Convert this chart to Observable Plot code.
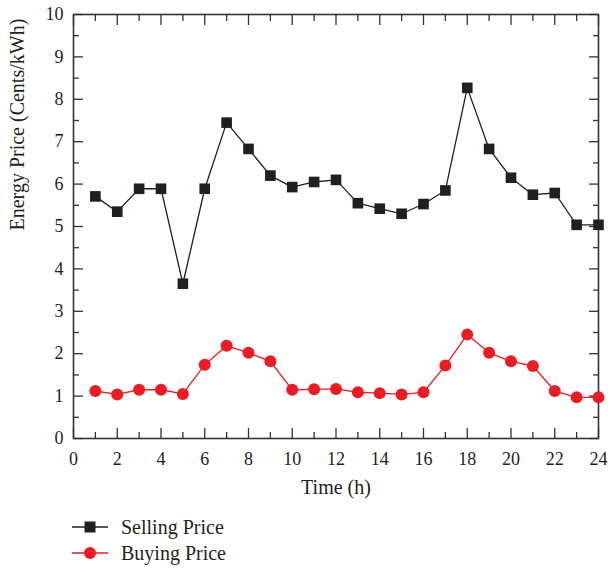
<!DOCTYPE html>
<html><head><meta charset="utf-8">
<script src="https://cdn.jsdelivr.net/npm/d3@7"></script>
<script src="https://cdn.jsdelivr.net/npm/@observablehq/plot@0.6"></script>
<style>
body{margin:0;background:#fff;font-family:"Liberation Serif",serif;color:#231f20}
#legend{margin-top:9px}
.row{display:flex;align-items:center;height:26px}
.row svg{margin-left:72px;display:block}
.row span{margin-left:13px;font-size:20px;line-height:26px}
</style></head><body>
<div id="chart"></div>
<div id="legend"></div>
<script>
const hours = [1,2,3,4,5,6,7,8,9,10,11,12,13,14,15,16,17,18,19,20,21,22,23,24];
const sellingPrice = [5.71,5.35,5.89,5.89,3.65,5.89,7.45,6.83,6.20,5.93,6.05,6.10,5.55,5.42,5.30,5.53,5.85,8.27,6.83,6.15,5.75,5.79,5.04,5.04];
const buyingPrice = [1.12,1.04,1.15,1.15,1.05,1.74,2.19,2.02,1.82,1.15,1.16,1.17,1.09,1.07,1.04,1.09,1.72,2.45,2.02,1.82,1.71,1.12,0.97,0.97];
const seriesNames = ["Selling Price","Buying Price"];
const seriesColors = ["#231f20","#ed1c24"];
const xMajorTicks = [0,2,4,6,8,10,12,14,16,18,20,22,24];
const xMinorTicks = [1,3,5,7,9,11,13,15,17,19,21,23];
const yMajorTicks = [0,1,2,3,4,5,6,7,8,9,10];
const yMinorTicks = [0.5,1.5,2.5,3.5,4.5,5.5,6.5,7.5,8.5,9.5];
const xLabel = "Time (h)";
const yLabel = "Energy Price (Cents/kWh)";

const sell = hours.map((h,i)=>({hour:h, price:sellingPrice[i], series:seriesNames[0]}));
const buy = hours.map((h,i)=>({hour:h, price:buyingPrice[i], series:seriesNames[1]}));
const blank = () => "";
const axisCol = "#333";

const chart = Plot.plot({
  width: 608,
  height: 505,
  marginLeft: 73,
  marginRight: 10,
  marginTop: 14,
  marginBottom: 67,
  x: {domain:[0,24], label:null},
  y: {domain:[0,10], label:null},
  style: {fontFamily:'"Liberation Serif", serif', fontSize:"18px", color:"#231f20", background:"#fff"},
  marks: [
    // tick marks (inward)
    Plot.axisX({anchor:"bottom", ticks:xMajorTicks, tickSize:-10, tickFormat:blank, label:null, stroke:axisCol, strokeWidth:1.3}),
    Plot.axisX({anchor:"bottom", ticks:xMinorTicks, tickSize:-6, tickFormat:blank, label:null, stroke:axisCol, strokeWidth:1.3}),
    Plot.axisX({anchor:"top", ticks:xMajorTicks, tickSize:-10, tickFormat:blank, label:null, stroke:axisCol, strokeWidth:1.3}),
    Plot.axisX({anchor:"top", ticks:xMinorTicks, tickSize:-6, tickFormat:blank, label:null, stroke:axisCol, strokeWidth:1.3}),
    Plot.axisY({anchor:"left", ticks:yMajorTicks, tickSize:-10, tickFormat:blank, label:null, stroke:axisCol, strokeWidth:1.3}),
    Plot.axisY({anchor:"left", ticks:yMinorTicks, tickSize:-6, tickFormat:blank, label:null, stroke:axisCol, strokeWidth:1.3}),
    Plot.axisY({anchor:"right", ticks:yMajorTicks, tickSize:-10, tickFormat:blank, label:null, stroke:axisCol, strokeWidth:1.3}),
    Plot.axisY({anchor:"right", ticks:yMinorTicks, tickSize:-6, tickFormat:blank, label:null, stroke:axisCol, strokeWidth:1.3}),
    // tick labels
    Plot.axisX({anchor:"bottom", ticks:xMajorTicks, tickSize:0, tickPadding:14, tickFormat:d=>String(d), label:null, fontSize:18}),
    Plot.axisY({anchor:"left", ticks:yMajorTicks, tickSize:0, tickPadding:10, tickFormat:d=>String(d), label:null, fontSize:18}),
    Plot.frame({stroke:axisCol, strokeWidth:1.6}),
    // axis titles
    Plot.text([xLabel], {frameAnchor:"bottom", dy:49, fontSize:20, lineAnchor:"middle"}),
    Plot.text([yLabel], {frameAnchor:"left", dx:-56, dy:4, rotate:-90, fontSize:20, lineAnchor:"middle"}),
    // series
    Plot.line(sell, {x:"hour", y:"price", stroke:seriesColors[0], strokeWidth:1.3}),
    Plot.dot(sell, {x:"hour", y:"price", symbol:"square", r:6, fill:seriesColors[0], stroke:"none"}),
    Plot.line(buy, {x:"hour", y:"price", stroke:seriesColors[1], strokeWidth:1.3}),
    Plot.dot(buy, {x:"hour", y:"price", symbol:"circle", r:6, fill:seriesColors[1], stroke:"none"})
  ]
});
document.getElementById("chart").appendChild(chart);

const legend = document.getElementById("legend");
seriesNames.forEach((name,i)=>{
  const row = document.createElement("div");
  row.className = "row";
  const c = seriesColors[i];
  const marker = i===0
    ? `<rect x="12.5" y="1.5" width="11" height="11" fill="${c}"/>`
    : `<circle cx="18" cy="7" r="6" fill="${c}"/>`;
  row.innerHTML = `<svg width="36" height="14" viewBox="0 0 36 14"><line x1="0" y1="7" x2="36" y2="7" stroke="${c}" stroke-width="1.3"/>${marker}</svg><span>${name}</span>`;
  legend.appendChild(row);
});
</script>
</body></html>
